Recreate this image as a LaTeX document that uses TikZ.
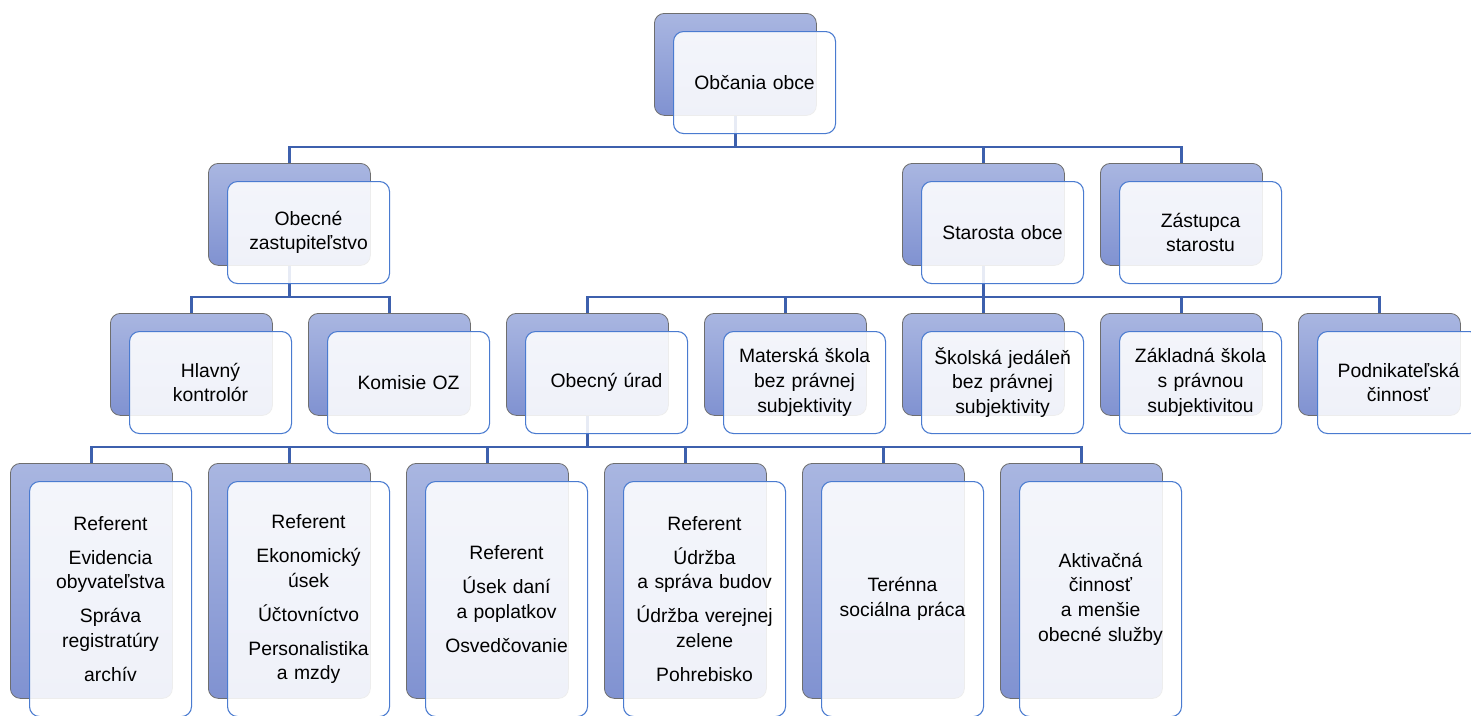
\documentclass[tikz,border=0pt]{standalone}
\usepackage{fontspec}
\setmainfont{Liberation Sans}
\usetikzlibrary{backgrounds}
\definecolor{backtop}{HTML}{A9B6E1}
\definecolor{backbot}{HTML}{8092D1}
\definecolor{backline}{HTML}{6E6E6E}
\definecolor{cardline}{HTML}{4A7BD0}
\definecolor{linkblue}{HTML}{3D60AD}

\begin{document}
\begin{tikzpicture}[x=0.75pt,y=0.75pt,yscale=-1,xscale=1,
  back/.style={draw=backline,line width=0.6pt,top color=backtop,bottom color=backbot,rounded corners=7.5pt,anchor=north west,minimum width=121.5pt,minimum height=76.5pt,inner sep=0pt},
  card/.style={draw=cardline,line width=0.8pt,fill=white,fill opacity=0.88,text opacity=1,rounded corners=7.5pt,anchor=north west,minimum width=121.5pt,minimum height=76.5pt,inner sep=0pt,text width=118pt,align=center,font=\fontsize{14.5}{18.5}\selectfont},
  tall/.style={minimum height=176.25pt},
  link/.style={draw=linkblue,line width=2pt}]
\useasboundingbox (0,0) rectangle (1471,715);

% top
\node[back] (obcania) at (654,13) {};
\node[card] (obcaniaT) at (673,31) {Občania obce};

% level 1
\node[back] (zastup) at (208,163) {};
\node[card] (zastupT) at (227,181) {Obecné\\zastupiteľstvo};
\node[back] (starosta) at (902,163) {};
\node[card] (starostaT) at (921,181) {Starosta obce};
\node[back] (zastupca) at (1100,163) {};
\node[card] (zastupcaT) at (1119,181) {Zástupca\\starostu};

% level 2
\node[back] (kontrolor) at (110,313) {};
\node[card] (kontrolorT) at (129,331) {Hlavný\\kontrolór};
\node[back] (komisie) at (308,313) {};
\node[card] (komisieT) at (327,331) {Komisie OZ};
\node[back] (urad) at (506,313) {};
\node[card] (uradT) at (525,331) {Obecný úrad};
\node[back] (materska) at (704,313) {};
\node[card] (materskaT) at (723,331) {Materská škola\\bez právnej\\subjektivity};
\node[back] (jedalen) at (902,313) {};
\node[card] (jedalenT) at (921,331) {Školská jedáleň\\bez právnej\\subjektivity};
\node[back] (zakladna) at (1100,313) {};
\node[card] (zakladnaT) at (1119,331) {Základná škola\\s právnou\\subjektivitou};
\node[back] (podnik) at (1298,313) {};
\node[card] (podnikT) at (1317,331) {Podnikateľská\\činnosť};

% level 3
\node[back,tall] (evid) at (10,463) {};
\node[card,tall] (evidT) at (29,481) {Referent\\[7pt]Evidencia\\obyvateľstva\\[7pt]Správa\\registratúry\\[7pt]archív};
\node[back,tall] (ekon) at (208,463) {};
\node[card,tall] (ekonT) at (227,481) {Referent\\[7pt]Ekonomický\\úsek\\[7pt]Účtovníctvo\\[7pt]Personalistika\\a mzdy};
\node[back,tall] (dane) at (406,463) {};
\node[card,tall] (daneT) at (425,481) {Referent\\[7pt]Úsek daní\\a poplatkov\\[7pt]Osvedčovanie};
\node[back,tall] (udrzba) at (604,463) {};
\node[card,tall] (udrzbaT) at (623,481) {Referent\\[7pt]Údržba\\a správa budov\\[7pt]Údržba verejnej\\zelene\\[7pt]Pohrebisko};
\node[back,tall] (socprac) at (802,463) {};
\node[card,tall] (socpracT) at (821,481) {Terénna\\sociálna práca};
\node[back,tall] (aktiv) at (1000,463) {};
\node[card,tall] (aktivT) at (1019,481) {Aktivačná\\činnosť\\a menšie\\obecné služby};

\begin{scope}[on background layer]
\draw[link] (zastup.north) -- ++(0,-16) -| (obcania.south);
\draw[link] (starosta.north) -- ++(0,-16) -| (obcania.south);
\draw[link] (zastupca.north) -- ++(0,-16) -| (obcania.south);
\draw[link] (kontrolor.north) -- ++(0,-16) -| (zastup.south);
\draw[link] (komisie.north) -- ++(0,-16) -| (zastup.south);
\draw[link] (urad.north) -- ++(0,-16) -| (starosta.south);
\draw[link] (materska.north) -- ++(0,-16) -| (starosta.south);
\draw[link] (jedalen.north) -- ++(0,-16) -| (starosta.south);
\draw[link] (zakladna.north) -- ++(0,-16) -| (starosta.south);
\draw[link] (podnik.north) -- ++(0,-16) -| (starosta.south);
\draw[link] (evid.north) -- ++(0,-16) -| (urad.south);
\draw[link] (ekon.north) -- ++(0,-16) -| (urad.south);
\draw[link] (dane.north) -- ++(0,-16) -| (urad.south);
\draw[link] (udrzba.north) -- ++(0,-16) -| (urad.south);
\draw[link] (socprac.north) -- ++(0,-16) -| (urad.south);
\draw[link] (aktiv.north) -- ++(0,-16) -| (urad.south);
\end{scope}
\end{tikzpicture}
\end{document}
